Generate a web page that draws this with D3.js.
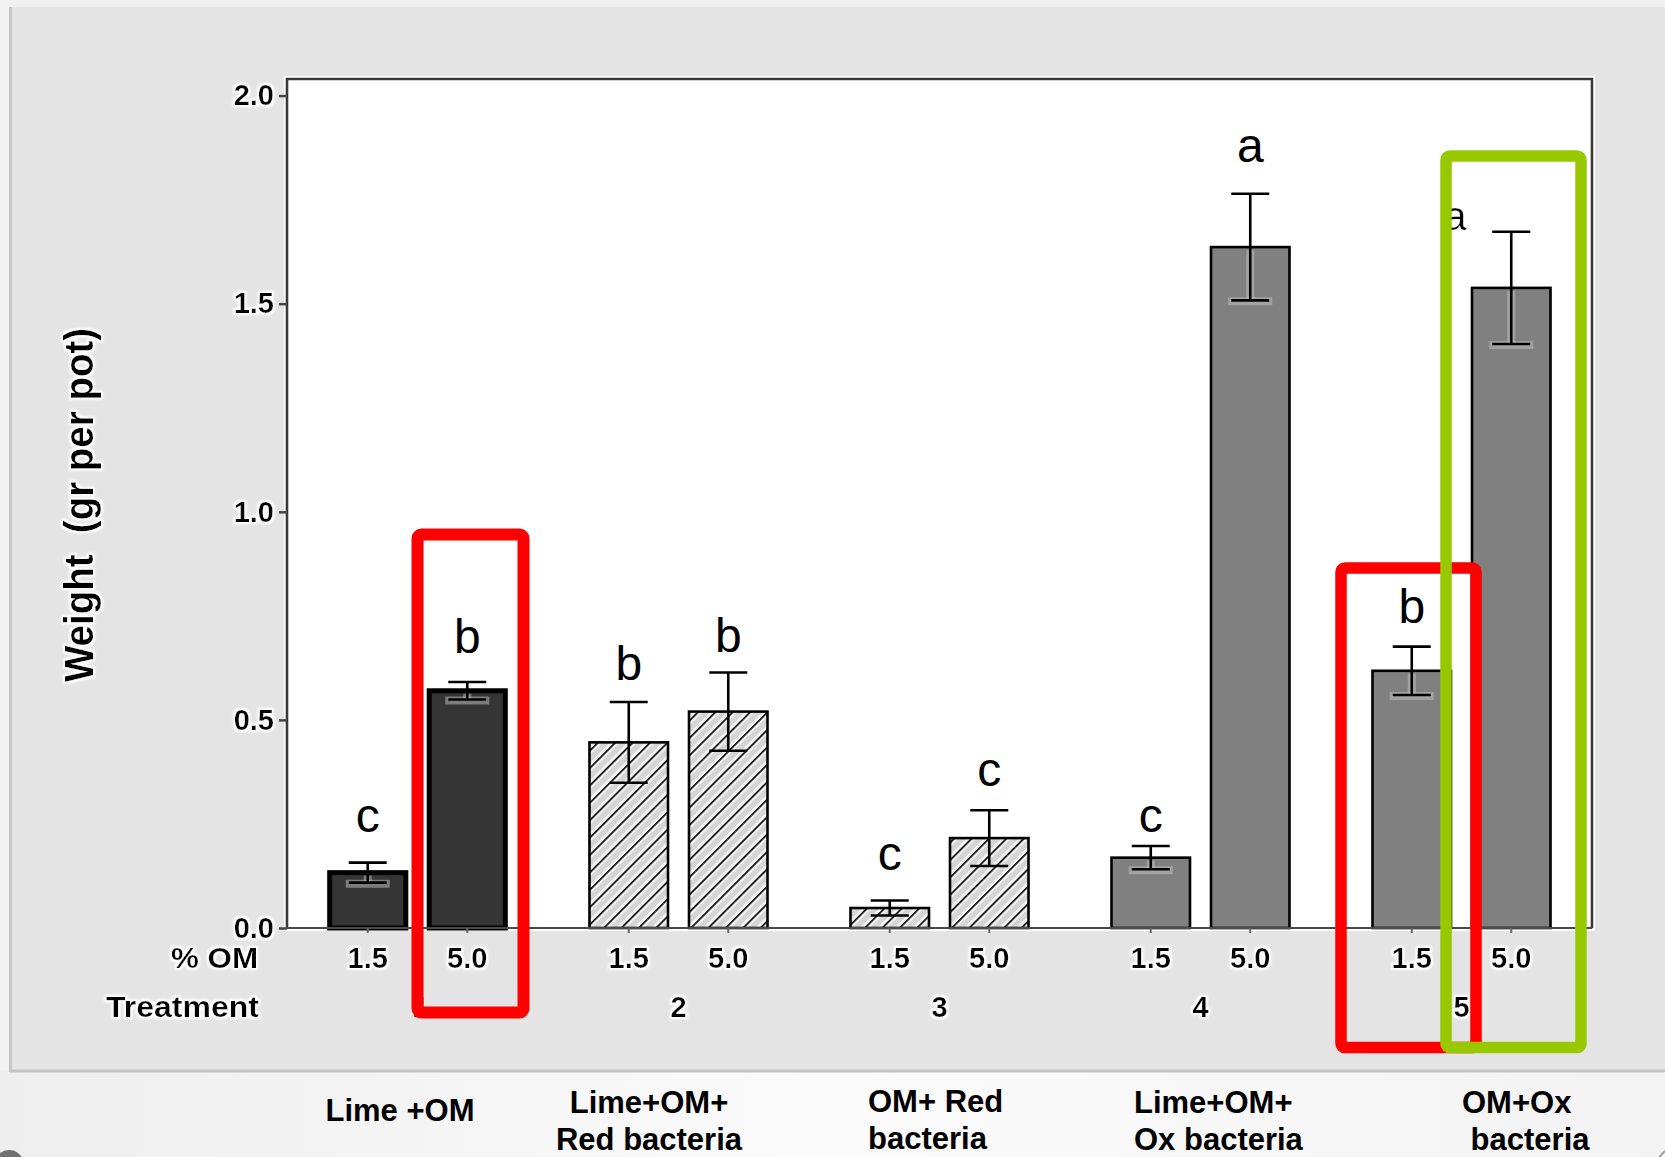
<!DOCTYPE html>
<html><head><meta charset="utf-8">
<script src="https://cdn.jsdelivr.net/npm/d3@7"></script>
<style>html,body{margin:0;padding:0;background:#fff;}svg{display:block;}</style>
</head><body>
<svg id="c" width="1665" height="1157"></svg>
<script>
// ---------------- data ----------------
const groups = ["1", "2", "3", "4", "5"];
const omLevels = ["1.5", "5.0"];
const means15 = [0.133, 0.446, 0.048, 0.169, 0.618];
const means50 = [0.570, 0.520, 0.216, 1.636, 1.538];
const se15 = [0.024, 0.097, 0.018, 0.028, 0.058];
const se50 = [0.021, 0.094, 0.067, 0.128, 0.135];
const letters15 = ["c", "b", "c", "c", "b"];
const letters50 = ["b", "b", "c", "a", "a"];
const letterAt15 = [0.231, 0.596, 0.139, 0.231, 0.733];
const letterAt50 = [0.661, 0.664, 0.340, 1.840, 1.677];
const yTicks = [0.0, 0.5, 1.0, 1.5, 2.0];
const fillKind = ["dark", "hatch", "hatch", "gray", "gray"];
const treatmentNames = [["Lime +OM"], ["Lime+OM+", "Red bacteria"], ["OM+ Red", "bacteria"], ["Lime+OM+", "Ox bacteria"], ["OM+Ox", " bacteria"]];
const yTitle = "Weight  (gr per pot)";

// ---------------- layout ----------------
const W = 1665, H = 1157;
const plot = {left: 287, right: 1592, top: 79, bottom: 928};
const pixFont = "'Liberation Sans', Arial, sans-serif";
const svg = d3.select("#c");
const defs = svg.append("defs");

const grad = defs.append("linearGradient").attr("id", "bottomGrad").attr("x1", "0").attr("x2", "1").attr("y1", "0").attr("y2", "0");
grad.append("stop").attr("offset", "0").attr("stop-color", "#eeeeee");
grad.append("stop").attr("offset", "0.5").attr("stop-color", "#fbfbfb");
grad.append("stop").attr("offset", "1").attr("stop-color", "#f3f3f3");

const pat = defs.append("pattern").attr("id", "hatch").attr("patternUnits", "userSpaceOnUse")
  .attr("width", 12.3).attr("height", 12.3).attr("patternTransform", "rotate(45)");
pat.append("rect").attr("width", 12.3).attr("height", 12.3).attr("fill", "#f5f5f5");
pat.append("rect").attr("x", 4).attr("width", 5.5).attr("height", 12.3).attr("fill", "#d5d5d5");
pat.append("line").attr("x1", 0.8).attr("x2", 0.8).attr("y1", 0).attr("y2", 12.3).attr("stroke", "#000").attr("stroke-width", 1.7);

const halo = defs.append("filter").attr("id", "halo").attr("x", "-20%").attr("y", "-30%").attr("width", "140%").attr("height", "160%");
halo.append("feMorphology").attr("in", "SourceAlpha").attr("operator", "dilate").attr("radius", 2.2).attr("result", "d");
halo.append("feGaussianBlur").attr("in", "d").attr("stdDeviation", 1.2).attr("result", "b");
halo.append("feFlood").attr("flood-color", "#ffffff").attr("result", "w");
halo.append("feComposite").attr("in", "w").attr("in2", "b").attr("operator", "in").attr("result", "g");
const hm = halo.append("feMerge");
hm.append("feMergeNode").attr("in", "g");
hm.append("feMergeNode").attr("in", "SourceGraphic");

// backgrounds
svg.append("rect").attr("width", W).attr("height", H).attr("fill", "#f1f1f1");
svg.append("rect").attr("x", 0).attr("y", 1070).attr("width", W).attr("height", H - 1070).attr("fill", "url(#bottomGrad)");
svg.append("rect").attr("x", 11).attr("y", 7).attr("width", W - 11).attr("height", 1063).attr("fill", "#e4e4e4");
svg.append("line").attr("x1", 10.5).attr("x2", 10.5).attr("y1", 7).attr("y2", 1071).attr("stroke", "#c6c6c6").attr("stroke-width", 3);
svg.append("line").attr("x1", 9).attr("x2", W).attr("y1", 1071).attr("y2", 1071).attr("stroke", "#c4c4c4").attr("stroke-width", 3);
svg.append("circle").attr("cx", 9).attr("cy", 1165).attr("r", 15).attr("fill", "#707070");
svg.append("circle").attr("cx", 1680).attr("cy", 1170).attr("r", 24).attr("fill", "none").attr("stroke", "#a0a0a0").attr("stroke-width", 2);

// plot area
svg.append("rect").attr("x", plot.left - 2).attr("y", plot.top - 2).attr("width", plot.right - plot.left + 4).attr("height", plot.bottom - plot.top + 4)
  .attr("fill", "none").attr("stroke", "#ffffff").attr("stroke-width", 2);
svg.append("rect").attr("x", plot.left).attr("y", plot.top).attr("width", plot.right - plot.left).attr("height", plot.bottom - plot.top).attr("fill", "#ffffff");

// scales
const x0 = d3.scaleBand().domain(groups).range([plot.left, plot.right]).padding(0);
const x1 = d3.scaleBand().domain(omLevels).range([0, x0.bandwidth()]).paddingInner(0.211).paddingOuter(0.417);
const y = d3.scaleLinear().domain([0, 2]).range([plot.bottom, 95.6]);

const rows = [];
groups.forEach((g, i) => {
  omLevels.forEach((o, j) => {
    rows.push({
      g, o, i, j,
      mean: j ? means50[i] : means15[i],
      se: j ? se50[i] : se15[i],
      letter: j ? letters50[i] : letters15[i],
      at: j ? letterAt50[i] : letterAt15[i],
      kind: fillKind[i]
    });
  });
});
const bw = x1.bandwidth();
const cx = d => x0(d.g) + x1(d.o) + bw / 2;
const styleOf = {
  dark: {fill: "#353535", sw: 5},
  hatch: {fill: "url(#hatch)", sw: 2.6},
  gray: {fill: "#808080", sw: 2.6}
};

// bars
svg.append("g").selectAll("rect").data(rows).join("rect")
  .attr("x", d => x0(d.g) + x1(d.o) + (styleOf[d.kind].sw - 2.6) / 2)
  .attr("width", d => bw - (styleOf[d.kind].sw - 2.6))
  .attr("y", d => y(d.mean))
  .attr("height", d => y(0) - y(d.mean))
  .attr("fill", d => styleOf[d.kind].fill)
  .attr("stroke", "#000")
  .attr("stroke-width", d => styleOf[d.kind].sw);

// error bar glow inside solid bars
const glow = svg.append("g").attr("stroke", "#c4c4c4").attr("stroke-opacity", 0.5).attr("fill", "none");
rows.filter(d => d.kind !== "hatch").forEach(d => {
  glow.append("line").attr("x1", cx(d)).attr("x2", cx(d)).attr("y1", y(d.mean) + 3).attr("y2", y(d.mean - d.se)).attr("stroke-width", 8);
  glow.append("line").attr("x1", cx(d) - 22).attr("x2", cx(d) + 22).attr("y1", y(d.mean - d.se) + 1).attr("y2", y(d.mean - d.se) + 1).attr("stroke-width", 8);
});

// error bars
const eb = svg.append("g").attr("stroke", "#000").attr("stroke-width", 2.6);
rows.forEach(d => {
  const top = y(d.mean + d.se), bot = y(d.mean - d.se), c = cx(d);
  eb.append("line").attr("x1", c).attr("x2", c).attr("y1", top).attr("y2", bot);
  eb.append("line").attr("x1", c - 19).attr("x2", c + 19).attr("y1", top).attr("y2", top);
  eb.append("line").attr("x1", c - 19).attr("x2", c + 19).attr("y1", bot).attr("y2", bot);
});

// significance letters
rows.forEach(d => {
  const special = d.g === "5" && d.o === "5.0";
  svg.append("text")
    .attr("x", cx(d) + (special ? -56 : 0))
    .attr("y", y(d.at))
    .attr("text-anchor", "middle")
    .attr("font-family", "'Liberation Sans', Arial, sans-serif")
    .attr("font-size", special ? 40 : 48)
    .attr("filter", special ? "url(#halo)" : null)
    .attr("fill", "#000")
    .text(d.letter);
});

// frame
svg.append("path")
  .attr("d", `M${plot.left},${plot.bottom}V${plot.top}H${plot.right}V${plot.bottom}`)
  .attr("fill", "none").attr("stroke", "#3a3a3a").attr("stroke-width", 2.6);
svg.append("line").attr("x1", plot.left).attr("x2", plot.right).attr("y1", plot.bottom).attr("y2", plot.bottom)
  .attr("stroke", "#4a4a4a").attr("stroke-width", 2);

// y axis
const gy = svg.append("g").attr("transform", `translate(${plot.left},0)`)
  .call(d3.axisLeft(y).tickValues(yTicks).tickFormat(d3.format(".1f")).tickSize(8).tickPadding(5));
gy.select(".domain").remove();
gy.selectAll(".tick line").attr("stroke", "#444").attr("stroke-width", 2.5);
gy.selectAll(".tick text").attr("font-family", pixFont).attr("font-size", 29).attr("font-weight", "bold")
  .attr("fill", "#000").attr("filter", "url(#halo)");

// x axis (per treatment)
groups.forEach(g => {
  const gx = svg.append("g").attr("transform", `translate(${x0(g)},${plot.bottom})`)
    .call(d3.axisBottom(x1).tickSize(5).tickPadding(0));
  gx.select(".domain").remove();
  gx.selectAll(".tick line").attr("stroke", "#666").attr("stroke-width", 2);
  gx.selectAll(".tick text").attr("y", 30).attr("dy", "0.36em")
    .attr("font-family", pixFont).attr("font-size", 29).attr("font-weight", "bold")
    .attr("fill", "#000").attr("filter", "url(#halo)");
});

const lab = svg.append("g").attr("font-family", pixFont).attr("font-size", 29).attr("font-weight", "bold").attr("fill", "#000");
lab.append("text").attr("x", 258).attr("y", 958).attr("dy", "0.36em").attr("text-anchor", "end")
  .attr("textLength", 87).attr("lengthAdjust", "spacingAndGlyphs").attr("filter", "url(#halo)").text("% OM");
lab.append("text").attr("x", 259).attr("y", 1007).attr("dy", "0.36em").attr("text-anchor", "end")
  .attr("textLength", 153).attr("lengthAdjust", "spacingAndGlyphs").attr("filter", "url(#halo)").text("Treatment");
groups.forEach((g, i) => {
  lab.append("text").attr("x", x0(g) + x0.bandwidth() / 2 + (i === 0 ? 3 : 0)).attr("y", 1007).attr("dy", "0.36em")
    .attr("text-anchor", "middle").attr("filter", i === 0 ? null : "url(#halo)").text(g);
});

// y title
svg.append("text")
  .attr("transform", "translate(93,505) rotate(-90)")
  .attr("text-anchor", "middle")
  .attr("font-family", pixFont).attr("font-size", 40).attr("font-weight", "bold")
  .attr("textLength", 354).attr("lengthAdjust", "spacingAndGlyphs")
  .attr("xml:space", "preserve")
  .attr("filter", "url(#halo)")
  .text(yTitle);

// treatment descriptions below the panel
const descLayout = [
  {x: 400, anchor: "middle", ys: [1121]},
  {x: 649, anchor: "middle", ys: [1113, 1150]},
  {x: 868, anchor: "start", ys: [1112, 1149]},
  {x: 1134, anchor: "start", ys: [1113, 1150]},
  {x: 1462, anchor: "start", ys: [1113, 1150]}
];
const desc = svg.append("g").attr("font-family", "'Liberation Sans', Arial, sans-serif").attr("font-size", 31).attr("font-weight", "bold").attr("fill", "#000");
treatmentNames.forEach((lines, i) => {
  lines.forEach((t, k) => {
    desc.append("text").attr("x", descLayout[i].x).attr("y", descLayout[i].ys[k])
      .attr("text-anchor", descLayout[i].anchor).attr("xml:space", "preserve").text(t);
  });
});

// highlight boxes
const boxes = svg.append("g").attr("fill", "none");
boxes.append("rect").attr("x", 417.5).attr("y", 534.5).attr("width", 106).attr("height", 478).attr("rx", 4)
  .attr("stroke", "#ff0000").attr("stroke-width", 12);
boxes.append("rect").attr("x", 1341).attr("y", 568).attr("width", 135).attr("height", 479.5).attr("rx", 4)
  .attr("stroke", "#ff0000").attr("stroke-width", 11.5);
boxes.append("rect").attr("x", 1446).attr("y", 156).attr("width", 135).attr("height", 891.5).attr("rx", 4)
  .attr("stroke", "#97c800").attr("stroke-width", 11.5);
</script>
</body></html>
